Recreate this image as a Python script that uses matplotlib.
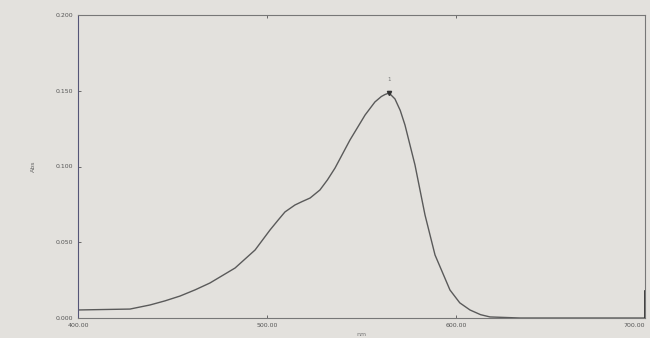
import matplotlib.pyplot as plt

# spectrum
wavelength = [400.0, 427.5, 438.1, 446.0, 454.0, 462.0, 469.8, 483.1, 493.7, 501.6, 506.0,
              509.5, 514.8, 518.5, 522.8, 528.0, 532.0, 536.0, 543.9, 551.9, 557.1, 560.5,
              562.4, 564.6, 567.7, 570.5, 573.0, 578.3, 583.6, 588.9, 596.8, 602.0, 607.4,
              613.0, 618.0, 633.9, 700.0]
absorb = [0.0053, 0.0059, 0.0086, 0.0113, 0.0145, 0.0186, 0.0231, 0.0330, 0.0449, 0.0581, 0.0648,
          0.0700, 0.0746, 0.0768, 0.0792, 0.0845, 0.0912, 0.0990, 0.1175, 0.1340, 0.1426, 0.1462,
          0.1475, 0.1485, 0.1446, 0.1370, 0.1274, 0.1010, 0.0680, 0.0416, 0.0185, 0.0100, 0.0053,
          0.0022, 0.0007, 0.0, 0.0]
xticks = [400, 500, 600, 700]
xtick_labels = ['400.00', '500.00', '600.00', '700.00']
yticks = [0.0, 0.05, 0.10, 0.15, 0.20]
ytick_labels = ['0.000', '0.050', '0.100', '0.150', '0.200']
peak_nm = 564.6
peak_abs = 0.1485

bg = '#e3e1dd'
fig = plt.figure(figsize=(6.5, 3.38), dpi=100, facecolor=bg)
ax = fig.add_axes([78 / 650, 20 / 338, 567 / 650, 303 / 338], facecolor=bg)

ax.plot(wavelength, absorb, color='#5a5a5a', lw=1.0)
ax.plot([peak_nm], [peak_abs], marker='v', ms=3, color='#333333')
ax.text(peak_nm, peak_abs + 0.008, '1', fontsize=4, color='#777777', ha='center')
ax.axvline(700, ymin=0, ymax=0.09, color='#222222', lw=1.2)

ax.set_xlim(400, 700)
ax.set_ylim(0, 0.2)
ax.set_xticks(xticks)
ax.set_xticklabels(xtick_labels)
ax.get_xticklabels()[-1].set_ha('right')
ax.set_yticks(yticks)
ax.set_yticklabels(ytick_labels)
ax.tick_params(labelsize=4.5, colors='#555555', length=2, width=0.6, direction='in')
ax.tick_params(top=True)
for s in ax.spines.values():
    s.set_color('#777777')
    s.set_linewidth(0.8)
ax.spines['left'].set_color('#555577')

ax.set_ylabel('Abs', fontsize=4.5, color='#666666', labelpad=14)
ax.set_xlabel('nm', fontsize=4.5, color='#777777', labelpad=3)

plt.savefig('out.png', dpi=100, facecolor=bg)
